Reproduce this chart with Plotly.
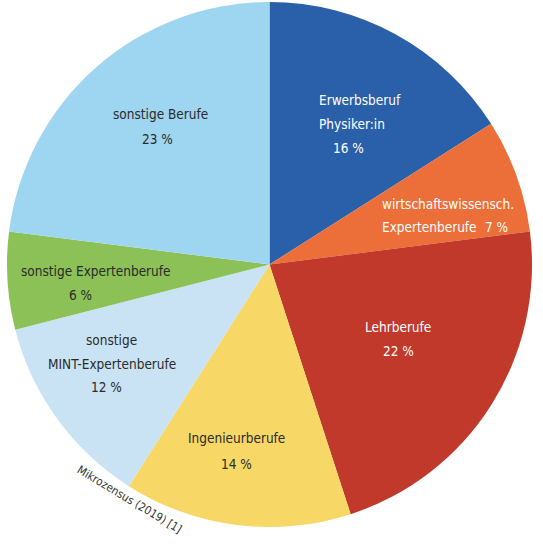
import plotly.graph_objects as go

# ---- data ----
categories = [
    "Erwerbsberuf Physiker:in",
    "wirtschaftswissensch. Expertenberufe",
    "Lehrberufe",
    "Ingenieurberufe",
    "sonstige MINT-Expertenberufe",
    "sonstige Expertenberufe",
    "sonstige Berufe",
]
values = [16, 7, 22, 14, 12, 6, 23]
source_note = "Mikrozensus (2019) [1]"

# ---- style ----
colors = ["#2a5fa9", "#ec6e38", "#c0392b", "#f7d766", "#c9e3f4", "#8cc157", "#9ed5f0"]
text_colors = ["white", "white", "white", "#2b2b2b", "#2b2b2b", "#2b2b2b", "#2b2b2b"]
W, H = 543, 547
FONT = "DejaVu Sans Condensed, Liberation Sans Narrow, sans-serif"
FS = 13.5

fig = go.Figure(go.Pie(
    labels=categories,
    values=values,
    sort=False,
    direction="clockwise",
    rotation=0,
    marker=dict(colors=colors, line=dict(width=0)),
    textinfo="none",
    hoverinfo="label+percent",
    showlegend=False,
    domain=dict(x=[7 / W, 532 / W], y=[1 - 527 / H, 1 - 2 / H]),
))

# label lines: (text, x_px, y_px, anchor) per category
pct = [f"{v} %" for v in values]
label_lines = [
    [("Erwerbsberuf", 317, 100, "left"), ("Physiker:in", 317, 124, "left"), (pct[0], 331, 148, "left")],
    [("wirtschaftswissensch.", 380, 204, "left"), ("Expertenberufe", 380, 227, "left"), (pct[1], 510, 227, "right")],
    [("Lehrberufe", 398, 327, "center"), (pct[2], 398, 351, "center")],
    [("Ingenieurberufe", 236, 438, "center"), (pct[3], 236, 464, "center")],
    [("sonstige", 111, 340, "center"), ("MINT-Expertenberufe", 112, 364, "center"), (pct[4], 106, 387, "center")],
    [("sonstige Expertenberufe", 96, 271, "center"), (pct[5], 80, 295, "center")],
    [("sonstige Berufe", 160, 114, "center"), (pct[6], 157, 139, "center")],
]

annotations = []
for i, lines in enumerate(label_lines):
    for txt, xp, yp, anc in lines:
        annotations.append(dict(
            text=txt, x=xp / W, y=1 - yp / H, xref="paper", yref="paper",
            xanchor=anc, yanchor="middle", showarrow=False,
            font=dict(family=FONT, size=FS, color=text_colors[i]),
        ))

annotations.append(dict(
    text=source_note, x=129 / W, y=1 - 499 / H, xref="paper", yref="paper",
    xanchor="center", yanchor="middle", showarrow=False, textangle=31,
    font=dict(family=FONT, size=11.5, color="#333333"),
))

fig.update_layout(
    width=W, height=H,
    margin=dict(l=0, r=0, t=0, b=0),
    paper_bgcolor="white",
    plot_bgcolor="white",
    annotations=annotations,
)

fig.write_html("out.html", config={"displayModeBar": False},
               post_script="document.body.style.margin='0';")
